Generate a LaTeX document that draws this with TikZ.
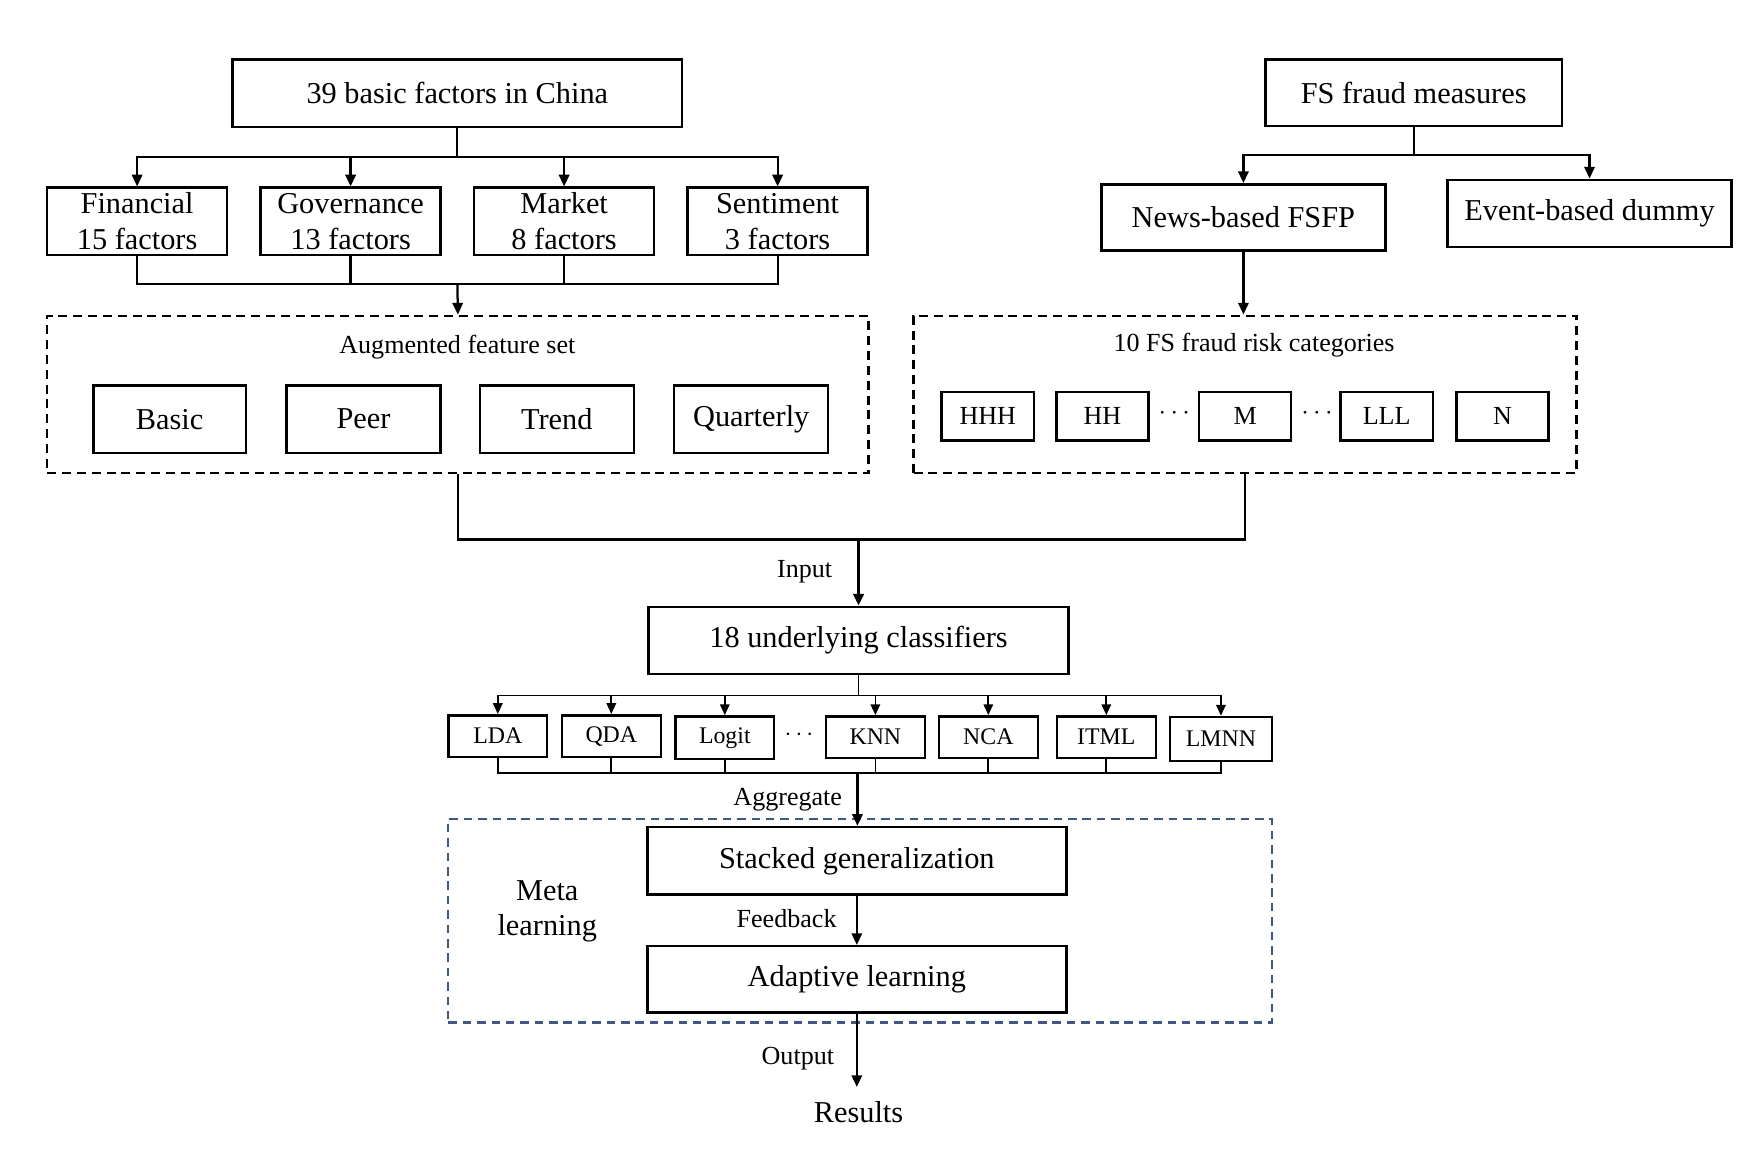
\documentclass[tikz,border=0pt]{standalone}
\usepackage{fontspec}
\setmainfont{Liberation Serif}
\usetikzlibrary{arrows.meta,calc}
\definecolor{metablue}{RGB}{59,87,148}
\begin{document}
\begin{tikzpicture}[x=0.5pt,y=-0.5pt,
  bigfont/.style={font=\fontsize{13.5}{16}\selectfont},
  midfont/.style={font=\fontsize{11.6}{14}\selectfont},
  smallfont/.style={font=\fontsize{10.6}{13}\selectfont},
  box/.style={draw, line width=1.1pt, inner sep=0pt, align=center, bigfont},
  sbox/.style={draw, line width=1.1pt, inner sep=0pt, align=center, midfont, minimum width=41pt, minimum height=21.5pt},
  cbox/.style={draw, line width=1.1pt, inner sep=0pt, align=center, smallfont, minimum width=44pt, minimum height=18.5pt},
  dbox/.style={draw, line width=1.1pt, dash pattern=on 4pt off 2.6pt, inner sep=0pt},
  conn/.style={line width=1pt},
  tconn/.style={line width=0.75pt},
  arr/.style={-{Triangle[length=5.2pt,width=4.6pt]}},
  sarr/.style={-{Triangle[length=4.8pt,width=4.2pt]}},
  lbl/.style={midfont, inner sep=0pt}
]
\useasboundingbox (0,0) rectangle (1568,1039.5);

% ---------- left branch ----------
\node[box, minimum width=200pt, minimum height=30pt] (top) at (407,83) {39 basic factors in China};
\node[box, minimum width=80pt, minimum height=30pt] (fin) at (122,197) {Financial\\15 factors};
\node[box, minimum width=80pt, minimum height=30pt] (gov) at (312,197) {Governance\\13 factors};
\node[box, minimum width=80pt, minimum height=30pt] (mkt) at (502,197) {Market\\8 factors};
\node[box, minimum width=80pt, minimum height=30pt] (sen) at (692,197) {Sentiment\\3 factors};
\coordinate (j1) at (407,140);
\coordinate (j2) at (407,253);
\draw[conn] (top.south) -- (j1);
\foreach \n in {fin,gov,mkt,sen} {
  \draw[conn,arr] (j1) -| (\n.north);
  \draw[conn] (\n.south) |- (j2);
}
\node[dbox, minimum width=365.5pt, minimum height=70pt] (aug) at (407.5,351) {};
\draw[conn,arr] (j2) -- (aug.north);
\node[lbl] (augl) at (407,309) {Augmented feature set};
\node[box, minimum width=68pt, minimum height=30pt] (basic) at (151,373) {Basic};
\node[box, minimum width=68.5pt, minimum height=30pt] (peer) at (323.5,373) {Peer};
\node[box, minimum width=68.5pt, minimum height=30pt] (trend) at (495.5,373) {Trend};
\node[box, minimum width=68.5pt, minimum height=30pt] (quart) at (668.5,373) {Quarterly};

% ---------- right branch ----------
\node[box, minimum width=132pt, minimum height=29.5pt] (fs) at (1258,82.5) {FS fraud measures};
\node[box, minimum width=126.5pt, minimum height=29.5pt] (news) at (1106.5,193.5) {News-based FSFP};
\node[box, minimum width=126.5pt, minimum height=30pt] (event) at (1414.5,190) {Event-based dummy};
\coordinate (j3) at (1258,138);
\draw[conn] (fs.south) -- (j3);
\draw[conn,arr] (j3) -| (news.north);
\draw[conn,arr] (j3) -| (event.north);
\node[dbox, minimum width=295pt, minimum height=70pt] (risk) at (1108,351) {};
\draw[conn,arr] (news.south) -- (news.south |- risk.north);
\node[lbl] (riskl) at (1116,307) {10 FS fraud risk categories};
\node[sbox] (hhh) at (879,370.5) {HHH};
\node[sbox] (hh) at (981,370.5) {HH};
\node[midfont, inner sep=0pt] (d1) at (1045,368) {$\cdots$};
\node[sbox] (m) at (1108,370.5) {M};
\node[midfont, inner sep=0pt] (d2) at (1172,368) {$\cdots$};
\node[sbox] (lll) at (1234,370.5) {LLL};
\node[sbox] (nn) at (1337,370.5) {N};

% ---------- merge ----------
\coordinate (jm) at (764,480);
\draw[conn] (aug.south) |- (jm);
\draw[conn] (risk.south) |- (jm);
\node[box, minimum width=187pt, minimum height=30pt] (clf) at (764,570) {18 underlying classifiers};
\draw[line width=1.5pt,arr] (jm) -- (clf.north);
\node[lbl] (inl) at (716,509) {Input};

% ---------- classifiers ----------
\coordinate (j5) at (764,619);
\coordinate (j6) at (763,688);
\draw[tconn] (clf.south) -- (j5);
\node[cbox] (lda) at (443,655) {LDA};
\node[cbox] (qda) at (544,655) {QDA};
\node[cbox, minimum height=19pt] (logit) at (645,656.5) {Logit};
\node[smallfont, inner sep=0pt] (d3) at (711,654) {$\cdots$};
\node[cbox] (knn) at (779,656) {KNN};
\node[cbox] (nca) at (879.5,656) {NCA};
\node[cbox] (itml) at (984.5,656) {ITML};
\node[cbox, minimum width=45.5pt, minimum height=19.5pt] (lmnn) at (1086.5,657.5) {LMNN};
\foreach \n in {lda,qda,logit,knn,nca,itml,lmnn} {
  \draw[tconn,sarr] (j5) -| (\n.north);
  \draw[tconn] (\n.south) |- (j6);
}

% ---------- meta learning ----------
\node[draw=metablue, line width=1pt, dash pattern=on 3.8pt off 2.6pt, minimum width=366.5pt, minimum height=90.5pt, inner sep=0pt] (meta) at (765.5,819.5) {};
\node[box, minimum width=186.5pt, minimum height=30pt] (stack) at (762.5,766) {Stacked generalization};
\node[box, minimum width=186.5pt, minimum height=29.5pt] (adapt) at (762.5,871.5) {Adaptive learning};
\draw[conn,arr] (j6) -- (j6 |- stack.north);
\node[lbl] (aggl) at (701,712) {Aggregate};
\draw[conn,arr] (stack.south) -- (adapt.north);
\node[lbl] (fbl) at (700,817) {Feedback};
\node[bigfont, align=center, inner sep=0pt] (ml) at (487,811) {Meta\\learning};
\node[bigfont, inner sep=6.4pt] (res) at (764,990) {Results};
\draw[conn,arr] (adapt.south) -- (adapt.south |- res.north);
\node[lbl] (outl) at (710,942) {Output};
\end{tikzpicture}
\end{document}
